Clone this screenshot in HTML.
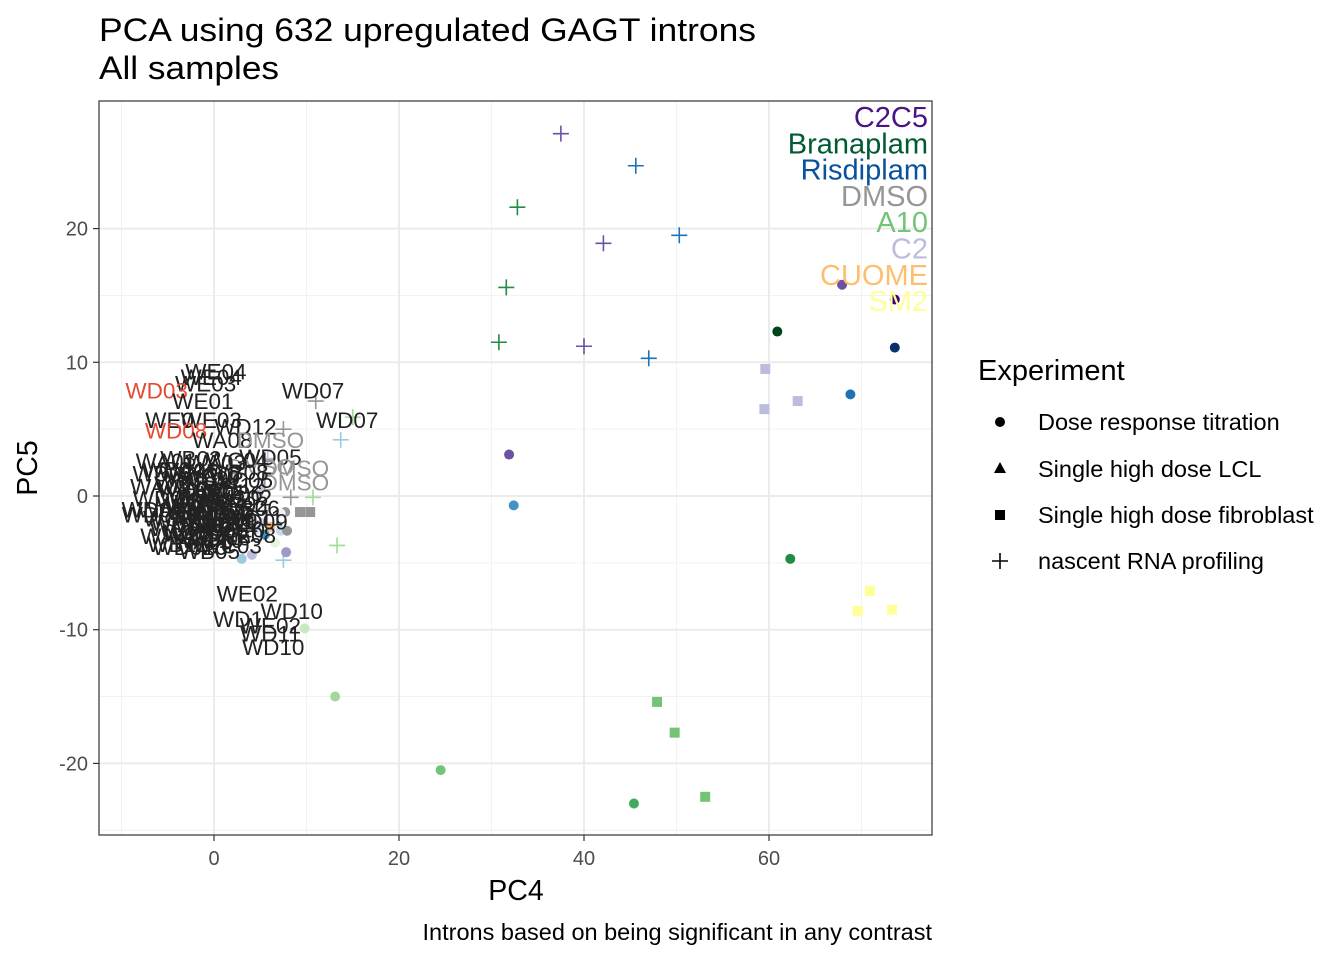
<!DOCTYPE html>
<html><head><meta charset="utf-8"><style>
body{margin:0;background:#fff}
svg text{font-family:"Liberation Sans",sans-serif}
</style></head><body>
<svg id="chart" width="1344" height="960" xmlns="http://www.w3.org/2000/svg">
<text x="99" y="41" font-size="32" fill="#000" textLength="657" lengthAdjust="spacingAndGlyphs">PCA using 632 upregulated GAGT introns</text>
<text x="99" y="79" font-size="32" fill="#000" textLength="180" lengthAdjust="spacingAndGlyphs">All samples</text>
<rect x="99" y="101" width="833" height="734" fill="#fff"/>
<g id="grid"></g>
<g id="marks"></g>
<g id="labels"></g>
<rect x="99" y="101" width="833" height="734" fill="none" stroke="#333" stroke-width="1.2"/>
<g id="axes"></g>
<text x="516" y="900" font-size="28.5" text-anchor="middle">PC4</text>
<text transform="translate(37,468) rotate(-90)" font-size="28.5" text-anchor="middle">PC5</text>
<text x="932" y="940" font-size="23.5" text-anchor="end">Introns based on being significant in any contrast</text>
<g>
<text x="978" y="380" font-size="29">Experiment</text>
<circle cx="1000" cy="422" r="5" fill="#000"/>
<text x="1038" y="430" font-size="23.5">Dose response titration</text>
<polygon points="1000,462 1006,473 994,473" fill="#000"/>
<text x="1038" y="477" font-size="23.5">Single high dose LCL</text>
<rect x="995" y="510" width="10" height="10" fill="#000"/>
<text x="1038" y="523" font-size="23.5">Single high dose fibroblast</text>
<path d="M992 561H1008M1000 553V569" stroke="#000" stroke-width="1.6"/>
<text x="1038" y="569" font-size="23.5">nascent RNA profiling</text>
</g>
</svg>
<script>
const xTicks=[0,20,40,60];
const yTicks=[-20,-10,0,10,20];
const xMinor=[-10,10,30,50,70];
const yMinor=[-25,-15,-5,5,15];
const ptX=[37.5,45.6,32.8,42.1,50.3,31.6,30.8,40,47,11,15,13.7,10.7,13.3,7.5,8.3,7.5,4.2,5.2,5.8,
67.9,73.6,60.9,73.6,68.8,31.9,32.4,62.3,13.1,24.5,45.4,9.8,5.6,5.2,6.1,5.5,4.5,7.2,6.6,7.7,7.9,3.0,4.1,7.8,7.2,
59.6,59.5,63.1,70.9,69.6,73.3,47.9,49.8,53.1,9.3,10.4];
const ptY=[27.1,24.7,21.6,18.9,19.5,15.6,11.5,11.2,10.3,7.1,5.9,4.2,-0.1,-3.7,-4.8,-0.1,5,-1.4,0.4,2.8,
15.8,14.7,12.3,11.1,7.6,3.1,-0.7,-4.7,-15,-20.5,-23,-9.9,-1.2,-2.0,-2.3,-2.9,-2.5,-2.6,-3.5,-1.2,-2.6,-4.7,-4.4,-4.2,-1.3,
9.5,6.5,7.1,-7.1,-8.6,-8.5,-15.4,-17.7,-22.5,-1.2,-1.2];
const ptShape=["p","p","p","p","p","p","p","p","p","p","p","p","p","p","p","p","p","p","p","p",
"c","c","c","c","c","c","c","c","c","c","c","c","c","c","c","c","c","c","c","c","c","c","c","c","c",
"s","s","s","s","s","s","s","s","s","s","s"];
const ptCol=["#6a51a3","#2171b5","#238b45","#6a51a3","#2171b5","#238b45","#238b45","#6a51a3","#2171b5","#969696","#a1d99b","#9ecae1","#a1d99b","#a1d99b","#9ecae1","#969696","#969696","#9ecae1","#bcbddc","#bcbddc",
"#6a51a3","#3f007d","#00441b","#08306b","#2171b5","#6a51a3","#4292c6","#238b45","#a1d99b","#74c476","#41ab5d","#c7e9c0","#efedf5","#dadaeb","#fdbe85","#4292c6","#c6dbef","#c6dbef","#e5f5e0","#969696","#969696","#9ecae1","#bcbddc","#9e9ac8","#f2f0f7",
"#bcbddc","#bcbddc","#bcbddc","#ffff99","#ffff99","#ffff99","#74c476","#74c476","#74c476","#969696","#969696"];
const lblText=["WE04","WE04","WE03","WD03","WE01","WD07","WD07","WE0","WE03","WD08","WD12","WA08","DMSO","WD05","DMSO","DMSO","DMSO","WE02","WD10","WD1","WE02","WD11","WD10",
"WA01","WB02","WA03","WC04","WB05","WA06","WC07","WB08","WA09","WC10","WB11","WA12","WD01","WE05","WB03","WC02","WA04","WD02","WE06","WB06","WC08","WA10","WB09","WC11","WD04","WE07","WB10","WA11","WC12","WD06","WE08","WB12","WA05","WC03","WD09","WE09","WB01","WC05","WB04","WC09","WD0","WD010","WB05","WD11","WD03",
"WA02","WB07","WC01","WC06","WA07","WE10","WE11","WE12","WD08","WB06","WC04","WA09","WB02","WC10"];
const lblX=[0.2,-0.3,-0.9,-6.2,-1.2,10.7,14.4,-4.8,-0.3,-4.1,3.4,0.9,6.1,6.1,8.8,8.8,5,3.6,8.4,2.6,6.1,6.1,6.4,
-5.2,-2.5,0.2,2.5,-5.5,-2.8,-0.2,2.6,-5.8,-3.1,-0.4,2.2,-5.4,-2.6,0.1,2.9,-5.0,-2.0,1.0,3.8,-4.3,-1.5,1.4,4.2,-3.6,-0.9,2.2,-4.8,-2.2,0.6,3.4,-3.9,-1.2,1.8,4.6,-2.9,0.2,3.0,-4.4,-1.8,-7.3,-2.6,-0.5,1.5,-6.6,
-1.0,0.8,-3.5,1.9,-2.2,-0.5,1.2,-1.5,-0.8,0.4,-2.8,-1.9,2.6,-0.2];
const lblY=[9.3,8.9,8.4,7.9,7.1,7.9,5.7,5.7,5.7,4.9,5.2,4.2,4.2,2.9,2.1,1.0,2.2,-7.3,-8.6,-9.2,-9.7,-10.3,-11.3,
2.6,2.8,2.5,2.7,1.7,1.9,1.6,1.8,0.7,0.9,0.6,0.8,-0.2,0.0,-0.3,-0.1,-1.0,-0.8,-1.1,-0.9,-1.7,-1.5,-1.8,-1.6,-2.4,-2.2,-2.5,-3.0,-2.8,-3.1,-2.9,-3.6,-3.4,-3.7,-1.9,-0.6,0.3,1.2,2.0,1.3,-1.0,-3.8,-4.1,-2.1,-1.4,
-0.5,-1.3,-2.0,0.2,-2.7,1.4,-1.9,-0.4,-1.6,-2.6,0.5,-1.2,-0.6,-3.3];
const lblCol=["#222","#222","#222","#e34a33","#222","#222","#222","#222","#222","#e34a33","#222","#222","#969696","#222","#969696","#969696","#969696","#222","#222","#222","#222","#222","#222"];
const legText=["C2C5","Branaplam","Risdiplam","DMSO","A10","C2","CUOME","SM2"];
const legCol=["#4a1486","#005a32","#08519c","#969696","#74c476","#bcbddc","#fdbf6f","#ffff99"];
const X=v=>214+v*9.25, Y=v=>496-v*13.37;
const NS="http://www.w3.org/2000/svg";
function mk(parent,tag,attrs){const e=document.createElementNS(NS,tag);for(const k in attrs)e.setAttribute(k,attrs[k]);document.getElementById(parent).appendChild(e);return e;}
xMinor.forEach(v=>{const e=mk("grid","line",{x1:X(v),x2:X(v),y1:101,y2:835,stroke:"#f2f2f2","stroke-width":1});

});
yMinor.forEach(v=>{if(Y(v)<101||Y(v)>835)return;const e=mk("grid","line",{x1:99,x2:932,y1:Y(v),y2:Y(v),stroke:"#f2f2f2","stroke-width":1});

});
xTicks.forEach(v=>{const e=mk("grid","line",{x1:X(v),x2:X(v),y1:101,y2:835,stroke:"#ebebeb","stroke-width":2});


const t=mk("axes","line",{x1:X(v),x2:X(v),y1:835,y2:841,stroke:"#333","stroke-width":1.2});


const l=mk("axes","text",{x:X(v),y:865,"font-size":20,fill:"#4d4d4d","text-anchor":"middle"});l.textContent=v;

});
yTicks.forEach(v=>{const e=mk("grid","line",{x1:99,x2:932,y1:Y(v),y2:Y(v),stroke:"#ebebeb","stroke-width":2});


const t=mk("axes","line",{x1:93,x2:99,y1:Y(v),y2:Y(v),stroke:"#333","stroke-width":1.2});


const l=mk("axes","text",{x:88,y:Y(v)+7,"font-size":20,fill:"#4d4d4d","text-anchor":"end"});l.textContent=v;

});
ptX.forEach((v,i)=>{const cx=X(v),cy=Y(ptY[i]),c=ptCol[i];let e;
if(ptShape[i]==="c")e=mk("marks","circle",{cx:cx,cy:cy,r:5,fill:c});
else if(ptShape[i]==="s")e=mk("marks","rect",{x:cx-5,y:cy-5,width:10,height:10,fill:c});
else e=mk("marks","path",{d:`M${cx-8} ${cy}H${cx+8}M${cx} ${cy-8}V${cy+8}`,stroke:c,"stroke-width":1.6,fill:"none"});

});
lblText.forEach((s,i)=>{const t=mk("labels","text",{x:X(lblX[i]),y:Y(lblY[i])+8,"font-size":22.5,fill:lblCol[i]||"#222","text-anchor":"middle"});t.textContent=s;

});
legText.forEach((s,i)=>{const t=mk("labels","text",{x:928,y:127+i*26.3,"font-size":29,fill:legCol[i],"text-anchor":"end"});t.textContent=s;

});
</script>
</body></html>
